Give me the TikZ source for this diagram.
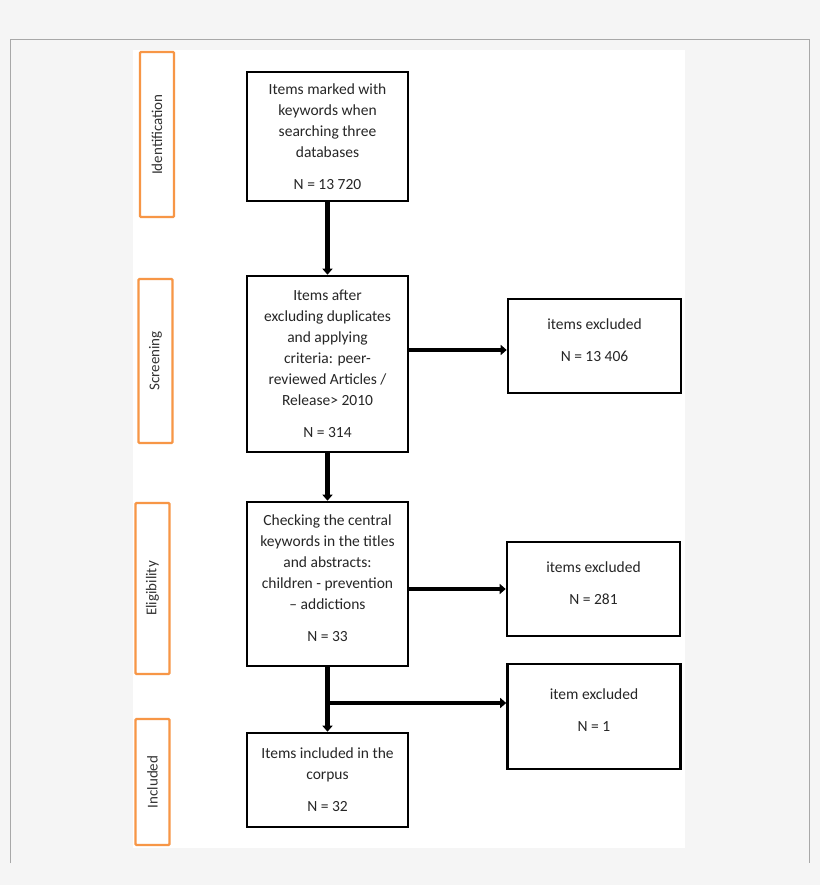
\documentclass[tikz,border=0pt]{standalone}
\usepackage{fontspec}
\setmainfont{Carlito}
\usetikzlibrary{arrows.meta}
\definecolor{pagegray}{HTML}{F5F5F5}
\definecolor{framegray}{HTML}{A8A8A8}
\definecolor{stageorange}{HTML}{F79646}
\newcommand{\liftup}{\\[-9pt]\mbox{}}
\begin{document}
\begin{tikzpicture}[x=1pt,y=-1pt,
		box/.style={draw=black,line width=2.6pt,fill=white,align=center,inner sep=2pt,
			font=\fontsize{15.5}{21}\selectfont,text=black!85},
		leftbox/.style={box,minimum width=161pt},
		rightbox/.style={box,minimum width=173pt,minimum height=94pt},
		stage/.style={draw=stageorange,line width=2.4pt,rounded corners=1pt,minimum height=34pt,
			rotate=90,font=\fontsize{15}{18}\selectfont,text=black!80},
		flow/.style={line width=4.6pt,-{Triangle[length=6pt,width=10pt]}}]
		\useasboundingbox (0,0) rectangle (820,885);
		\fill[pagegray] (0,0) rectangle (820,885);
		\draw[framegray,line width=1pt] (10,863)--(10,40)--(809,40)--(809,863);
		\fill[white] (133,50) rectangle (685,848);
		% stages
		\node[stage,minimum width=165pt] (id) at (157,134.5) {Identification};
		\node[stage,minimum width=164pt] (sc) at (155.5,361) {Screening};
		\node[stage,minimum width=171pt] (el) at (152.5,588.5) {Eligibility};
		\node[stage,minimum width=126pt] (in) at (152.5,782) {Included};
		% main column
		\node[leftbox,minimum height=129pt] (b1) at (327.5,136.5)
			{Items marked with\\ keywords when\\ searching three\\ databases\\[11pt] N = 13 720};
		\node[leftbox,minimum height=176pt] (b2) at (327.5,364)
			{Items after\\ excluding duplicates\\ and applying\\ criteria: peer-\\ reviewed Articles /\\ Release> 2010\\[11pt] N = 314};
		\node[leftbox,minimum height=164pt] (b3) at (327.5,584)
			{Checking the central\\ keywords in the titles\\ and abstracts:\\ children - prevention\\ – addictions\\[11pt] N = 33\liftup};
		\node[leftbox,minimum height=94pt] (b4) at (327.5,780)
			{Items included in the\\ corpus\\[11pt] N = 32};
		% excluded
		\node[rightbox] (ra) at (594.5,346) {items excluded\\[11pt] N = 13 406\liftup};
		\node[rightbox] (rb) at (593.5,589) {items excluded\\[11pt] N = 281\liftup};
		\node[rightbox,minimum height=105pt] (rc) at (594,716.5) {item excluded\\[11pt] N = 1\liftup};
		\coordinate (s) at (0,350); \coordinate (br) at (327.5,703);
		\draw[flow] (b1.south)--(b2.north);
		\draw[flow] (b2.south)--(b3.north);
		\draw[flow] (b3.south)--(b4.north);
		\draw[flow] (b2.east |- s)--(ra.west |- s);
		\draw[flow] (b3.east |- rb.west)--(rb.west);
		\draw[flow] (br)--(rc.west |- br);
\end{tikzpicture}
\end{document}
